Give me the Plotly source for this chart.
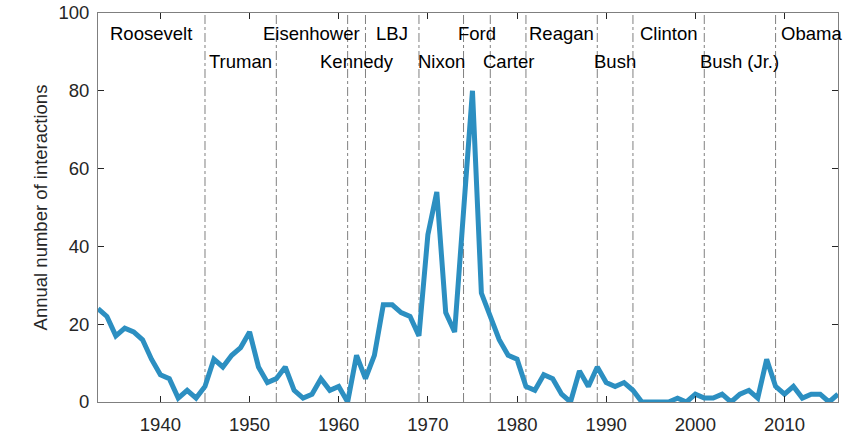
import plotly.graph_objects as go

years = list(range(1933, 2017))
interactions = [24, 22, 17, 19, 18, 16, 11, 7, 6, 1,
                3, 1, 4, 11, 9, 12, 14, 18, 9, 5,
                6, 9, 3, 1, 2, 6, 3, 4, 0, 12,
                6, 12, 25, 25, 23, 22, 17, 43, 54, 23,
                18, 49, 80, 28, 22, 16, 12, 11, 4, 3,
                7, 6, 2, 0, 8, 4, 9, 5, 4, 5,
                3, 0, 0, 0, 0, 1, 0, 2, 1, 1,
                2, 0, 2, 3, 1, 11, 4, 2, 4, 1,
                2, 2, 0, 2]

presidents = ["Roosevelt", "Truman", "Eisenhower", "Kennedy", "LBJ", "Nixon", "Ford",
              "Carter", "Reagan", "Bush", "Clinton", "Bush (Jr.)", "Obama"]
term_start = [1933, 1945, 1953, 1961, 1963, 1969, 1974, 1977, 1981, 1989, 1993, 2001, 2009]
term_end = [1945, 1953, 1961, 1963, 1969, 1974, 1977, 1981, 1989, 1993, 2001, 2009, 2017]

x_ticks = [1940, 1950, 1960, 1970, 1980, 1990, 2000, 2010]
y_ticks = [0, 20, 40, 60, 80, 100]

FONT = "Liberation Sans, Arial, sans-serif"
TXT = "#262626"
AX = "#7f7f7f"
FS = 18.5

fig = go.Figure()
fig.add_trace(go.Scatter(x=years, y=interactions, mode="lines",
                         line=dict(color="#2c8fc1", width=5),
                         showlegend=False, hoverinfo="skip"))

shapes = []
for s in term_start[1:]:
    shapes.append(dict(type="line", xref="x", yref="y", x0=s, x1=s, y0=0, y1=100,
                       line=dict(color="#808080", width=1, dash="dashdot"), layer="below"))

annotations = []
for i, (name, a, b) in enumerate(zip(presidents, term_start, term_end)):
    row_y = 94.8 if i % 2 == 0 else 87.6
    annotations.append(dict(x=(a + b) / 2, y=row_y, xref="x", yref="y", text=name,
                            showarrow=False, xanchor="center", yanchor="middle",
                            font=dict(family=FONT, size=FS, color="#000000")))

fig.update_layout(
    width=857, height=441,
    margin=dict(l=98, r=19, t=13, b=39, autoexpand=False),
    paper_bgcolor="white", plot_bgcolor="white",
    font=dict(family=FONT, size=FS, color=TXT),
    shapes=shapes, annotations=annotations,
)
fig.update_xaxes(range=[1933, 2016], tickvals=x_ticks, ticks="inside", ticklen=6,
                 tickcolor=TXT, showline=True, linecolor=AX, linewidth=1, mirror="ticks",
                 showgrid=False, zeroline=False, automargin=False, ticklabelstandoff=6,
                 tickfont=dict(size=FS, color=TXT))
fig.update_yaxes(range=[0, 100], tickvals=y_ticks, ticks="inside", ticklen=6,
                 tickcolor=TXT, showline=True, linecolor=AX, linewidth=1, mirror="ticks",
                 showgrid=False, zeroline=False, automargin=False, ticklabelstandoff=4,
                 tickfont=dict(size=FS, color=TXT),
                 title=dict(text="Annual number of interactions", font=dict(size=FS, color=TXT),
                            standoff=5))

fig.write_html("out.html",
               config={"displayModeBar": False},
               post_script="document.body.style.margin='0';document.body.style.padding='0';")
